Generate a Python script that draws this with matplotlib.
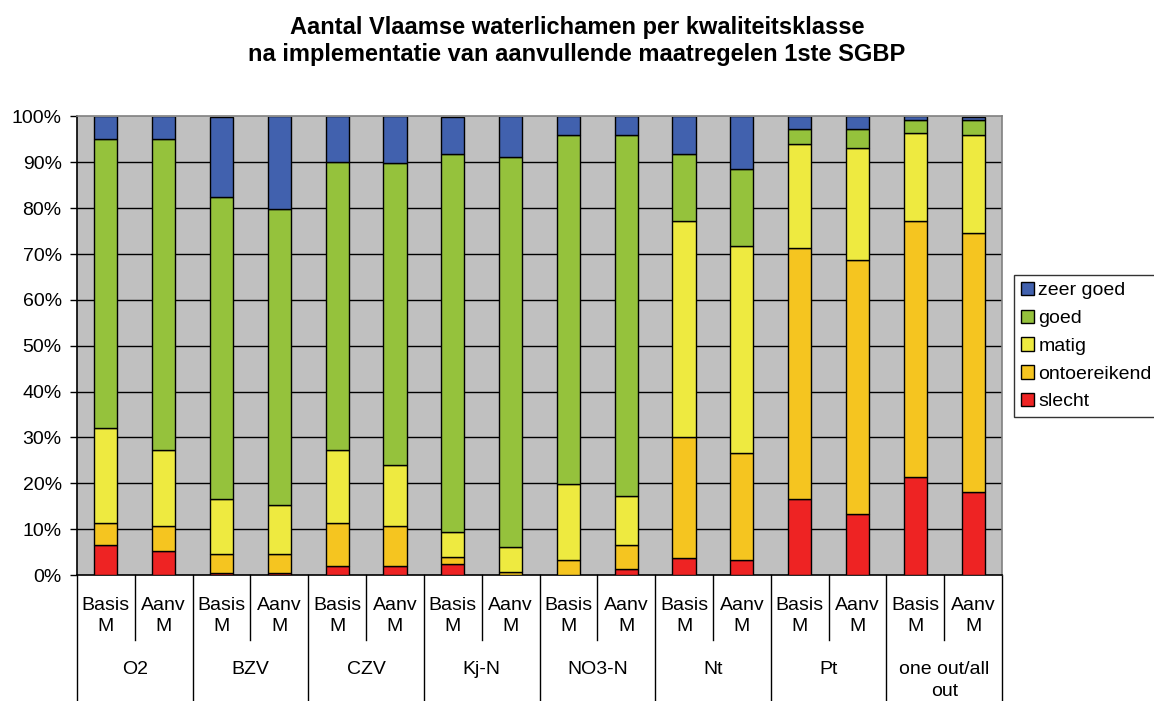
import numpy as np
import matplotlib
matplotlib.use('Agg')
import matplotlib.pyplot as plt
from matplotlib.patches import Patch

plt.rcParams['font.family'] = ['Liberation Sans', 'DejaVu Sans']

# Data (percent of water bodies per quality class)
groups = ['O2', 'BZV', 'CZV', 'Kj-N', 'NO3-N', 'Nt', 'Pt', 'one out/all\nout']
scenarios = ['Basis\nM', 'Aanv\nM']

slecht = [6.6, 5.3, 0.5, 0.5, 1.9, 1.9, 2.5, 0.0, 0.0, 1.2, 3.8, 3.3, 16.6, 13.2, 21.3, 18.0]
ontoereikend = [4.7, 5.3, 4.1, 4.1, 9.4, 8.7, 1.4, 0.6, 3.3, 5.4, 26.2, 23.3, 54.7, 55.4, 55.9, 56.6]
matig = [20.7, 16.7, 12.0, 10.7, 15.9, 13.3, 5.4, 5.4, 16.6, 10.6, 47.2, 45.2, 22.7, 24.6, 19.3, 21.3]
goed = [63.2, 67.9, 65.9, 64.6, 62.8, 65.9, 82.6, 85.2, 76.0, 78.7, 14.7, 16.7, 3.2, 4.0, 2.7, 3.3]
zeer_goed = [4.8, 4.8, 17.5, 20.1, 10.0, 10.2, 8.1, 8.8, 4.1, 4.1, 8.1, 11.5, 2.8, 2.8, 0.8, 0.8]

series = [('slecht', slecht, '#EE2323'),
          ('ontoereikend', ontoereikend, '#F5C520'),
          ('matig', matig, '#EEEA40'),
          ('goed', goed, '#95C23C'),
          ('zeer goed', zeer_goed, '#4161AE')]

W, H = 1154, 701
fig = plt.figure(figsize=(W / 100, H / 100), dpi=100)
ax_l, ax_r, ax_t, ax_b = 77, 1002, 116.5, 575
ax = fig.add_axes([ax_l / W, 1 - ax_b / H, (ax_r - ax_l) / W, (ax_b - ax_t) / H])
ax.set_facecolor('#C0C0C0')

x = np.arange(len(slecht))
bottom = np.zeros(len(x))
handles = []
for name, vals, col in series:
    ax.bar(x, vals, width=0.4, bottom=bottom, color=col, edgecolor='black',
           linewidth=1.0, zorder=3)
    bottom += np.array(vals)
    handles.append(Patch(facecolor=col, edgecolor='black', linewidth=1.0, label=name))

ax.set_xlim(-0.5, len(x) - 0.5)
ax.set_ylim(0, 100)
yt = np.arange(0, 101, 10)
ax.set_yticks(yt)
ax.set_yticklabels([f'{v}%' for v in yt], fontsize=14)
ax.tick_params(axis='y', direction='out', length=5, width=1, pad=6, colors='black')
ax.set_xticks([])
for v in yt[1:-1]:
    ax.axhline(v, color='black', linewidth=1.0, zorder=1)

ax.spines['left'].set_color('black')
ax.spines['bottom'].set_color('black')
ax.spines['top'].set_color('#808080')
ax.spines['right'].set_color('#808080')
for s in ax.spines.values():
    s.set_linewidth(1.2)

# multi-level category axis
tr = ax.get_xaxis_transform()
inner_y = -(640 - ax_b) / (ax_b - ax_t)
outer_y = -(H - ax_b) / (ax_b - ax_t)
for i in range(len(groups) + 1):
    xp = 2 * i - 0.5
    ax.plot([xp, xp], [0, outer_y], transform=tr, color='black', linewidth=1.0, clip_on=False)
for i in range(len(groups)):
    xp = 2 * i + 0.5
    ax.plot([xp, xp], [0, inner_y], transform=tr, color='black', linewidth=1.0, clip_on=False)

lab_y = -(616 - ax_b) / (ax_b - ax_t)
grp_y = -(661 - ax_b) / (ax_b - ax_t)
for i in x:
    ax.text(i, lab_y, scenarios[i % 2], transform=tr, ha='center', va='center',
            fontsize=14, linespacing=1.32)
for i, g in enumerate(groups):
    ax.text(2 * i + 0.5, grp_y, g, transform=tr, ha='center', va='top',
            fontsize=14, linespacing=1.35)

fig.text(0.5, 1 - 41 / H,
         'Aantal Vlaamse waterlichamen per kwaliteitsklasse\nna implementatie van aanvullende maatregelen 1ste SGBP',
         ha='center', va='center', fontsize=17, fontweight='bold', linespacing=1.2)

leg = fig.legend(handles=handles[::-1], loc='upper left',
                 bbox_to_anchor=(1014 / W, 1 - 275 / H), fontsize=14,
                 frameon=True, fancybox=False, edgecolor='black',
                 handlelength=0.7, handleheight=0.7, handletextpad=0.2,
                 labelspacing=0.52, borderpad=0.35, borderaxespad=0)
leg.get_frame().set_linewidth(1.0)

fig.savefig('out.png', dpi=100)
